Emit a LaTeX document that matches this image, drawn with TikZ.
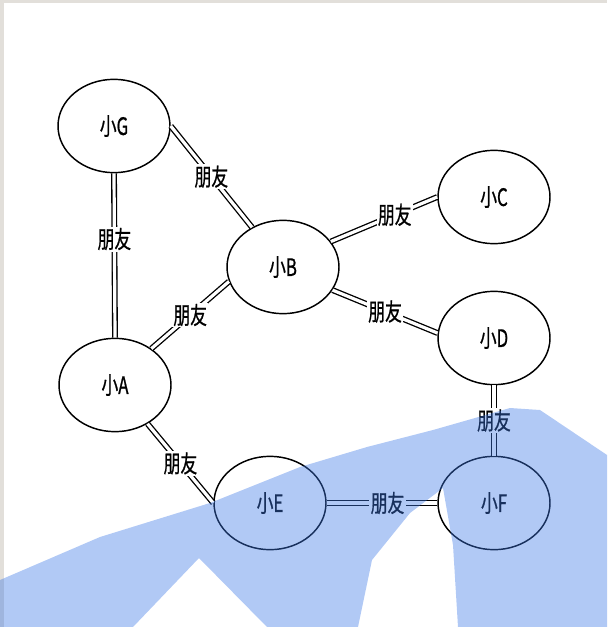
\documentclass[tikz,border=0pt]{standalone}
\usepackage{fontspec}
\setmainfont[FakeStretch=0.7,FakeBold=0.8]{Noto Sans CJK SC}
\usetikzlibrary{shapes.geometric}
\definecolor{wash blue}{RGB}{60,120,230}
\definecolor{frame gray}{RGB}{226,223,218}
\tikzset{
    label font/.style={font=\fontsize{18}{18}\selectfont},
    person/.style={ellipse,draw,line width=1.1pt,minimum width=84pt,minimum height=70pt,inner sep=0pt,label font},
    friend line/.style={double,double distance=2.4pt,line width=1pt},
    friend tag/.style={fill=white,inner sep=1pt,label font},
    wash/.style={fill=wash blue,fill opacity=0.4},
}

\begin{document}
\begin{tikzpicture}[x=0.75pt,y=-0.75pt]
    \useasboundingbox (0,0) rectangle (607,627);
    \fill[frame gray] (0,0) rectangle (607,3);
    \fill[frame gray] (0,0) rectangle (4,627);

    \node[person] (G) at (114,126) {小G};
    \node[person] (B) at (283,267) {小B};
    \node[person] (C) at (494,197) {小C};
    \node[person] (D) at (494,338) {小D};
    \node[person] (A) at (115,385) {小A};
    \node[person] (E) at (270,503) {小E};
    \node[person] (F) at (494,503) {小F};

    \draw[friend line] (G.east) -- node[friend tag] {朋友} (B.128);
    \draw[friend line] (G.south) -- node[friend tag,pos=.4] {朋友} (A.north);
    \draw[friend line] (A.45) -- node[friend tag] {朋友} (B.195);
    \draw[friend line] (B.28) -- node[friend tag,pos=.6] {朋友} (C.west);
    \draw[friend line] (B.-25) -- node[friend tag] {朋友} (D.175);
    \draw[friend line] (A.-50) -- node[friend tag] {朋友} (E.west);
    \draw[friend line] (E.east) -- node[friend tag,pos=.55] {朋友} (F.west);
    \draw[friend line] (D.south) -- node[friend tag] {朋友} (F.north);

    % blue band across the bottom
    \fill[wash] (0,580) -- (100,537) -- (210,503) -- (300,467) -- (367,447)
        -- (433,430) -- (510,408) -- (540,410) -- (607,455) -- (607,627)
        -- (458,627) -- (453,545) -- (443,488) -- (410,513) -- (372,560)
        -- (358,627) -- (267,627) -- (199,558) -- (133,627) -- (0,627) -- cycle;
\end{tikzpicture}
\end{document}
